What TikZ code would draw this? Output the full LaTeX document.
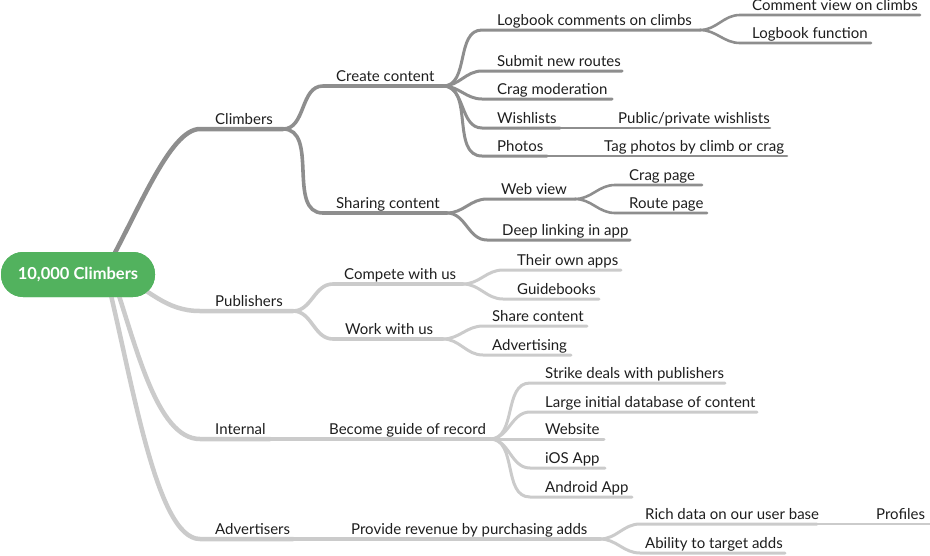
\documentclass[tikz,border=0pt]{standalone}
\usepackage{fontspec}
\setmainfont{Lato}
\definecolor{dk}{HTML}{8E8E8E}
\definecolor{lt}{HTML}{CBCBCB}
\definecolor{grn}{HTML}{52B25E}
\definecolor{txt}{HTML}{1E1E1E}
\newcommand{\mmtopic}[6]{%
  \coordinate (#1-s) at (#4,-#3);
  \coordinate (#1-e) at (#5,-#3);
  \node[lbl] (#1) at (#2,-#3+5) {#6};}
\begin{document}
\begin{tikzpicture}[x=1pt,y=1pt,
  lbl/.style={anchor=base west,inner sep=0pt,font=\fontsize{15}{17}\selectfont,text=txt},
  br/.style={line cap=round,line join=round},
  dA/.style={br,draw=dk,line width=4.5pt},
  dB/.style={br,draw=dk,line width=3.6pt},
  dC/.style={br,draw=dk,line width=3pt},
  dD/.style={br,draw=dk,line width=2.6pt},
  lA/.style={br,draw=lt,line width=4.5pt},
  lB/.style={br,draw=lt,line width=3.6pt},
  lC/.style={br,draw=lt,line width=3pt},
  lD/.style={br,draw=lt,line width=2.6pt},
  sc/.style={out=0,in=180},
  rootbox/.style={fill=grn,rounded corners=22pt,minimum width=154pt,minimum height=45pt,inner sep=0pt,
  text=white,font=\bfseries\fontsize{16.5}{19}\selectfont}]
\path[use as bounding box] (0,0) rectangle (930,-555);
% root (placed first so the connectors can start from it)
\node[rootbox] (root) at (78,-274.5) {};
% topics
\mmtopic{cl}{215}{129}{200}{283}{Climbers}
\mmtopic{cc}{336}{86}{323}{443}{Create content}
\mmtopic{sh}{336}{213}{323}{447}{Sharing content}
\mmtopic{lb}{497}{30}{482}{700}{Logbook comments on climbs}
\mmtopic{cv}{752}{15}{740}{920}{Comment view on climbs}
\mmtopic{lf}{752}{43}{740}{871}{Logbook function}
\mmtopic{sn}{497}{71}{482}{622}{Submit new routes}
\mmtopic{cm}{497}{99}{482}{612}{Crag moderation}
\mmtopic{wl}{497}{128}{482}{560}{Wishlists}
\mmtopic{pw}{618}{128}{560}{770}{Public/private wishlists}
\mmtopic{ph}{497}{156}{482}{547}{Photos}
\mmtopic{tp}{604}{156}{547}{787}{Tag photos by climb or crag}
\mmtopic{wv}{501}{199}{487}{575}{Web view}
\mmtopic{cp}{629}{185}{615}{702}{Crag page}
\mmtopic{rp}{629}{213}{615}{707}{Route page}
\mmtopic{dl}{502}{240}{487}{630}{Deep linking in app}
\mmtopic{pu}{215}{311}{200}{293}{Publishers}
\mmtopic{co}{344}{284}{333}{463}{Compete with us}
\mmtopic{oa}{517}{270}{503}{621}{Their own apps}
\mmtopic{gb}{517}{299}{503}{599}{Guidebooks}
\mmtopic{ww}{345}{339}{333}{443}{Work with us}
\mmtopic{sc}{492}{326}{483}{587}{Share content}
\mmtopic{ad}{492}{355}{483}{571}{Advertising}
\mmtopic{in}{215}{439}{200}{270}{Internal}
\mmtopic{bg}{329}{439}{270}{490}{Become guide of record}
\mmtopic{sd}{545}{383}{530}{725}{Strike deals with publishers}
\mmtopic{li}{545}{412}{530}{757}{Large initial database of content}
\mmtopic{ws}{545}{439}{530}{604}{Website}
\mmtopic{io}{545}{468}{530}{605}{iOS App}
\mmtopic{an}{545}{497}{530}{632}{Android App}
\mmtopic{av}{215}{539}{200}{293}{Advertisers}
\mmtopic{pr}{351}{539}{293}{600}{Provide revenue by purchasing adds}
\mmtopic{rd}{645}{524}{640}{817}{Rich data on our user base}
\mmtopic{pf}{876}{524}{817}{930}{Profiles}
\mmtopic{at}{645}{553}{640}{785}{Ability to target adds}
% connectors: root level
\draw[dA] ([xshift=25pt]root.center) to[out=60,in=180,in looseness=0.45] (cl-s) -- (cl-e);
\draw[lA] ([xshift=40pt]root.center) to[out=-25,in=180] (pu-s) -- (pu-e);
\draw[lA] ([xshift=34pt]root.center) to[out=-71,in=180,in looseness=0.6] (in-s) -- (in-e);
\draw[lA] ([xshift=28pt]root.center) to[out=-76,in=180,in looseness=0.4] (av-s) -- (av-e);
% climbers
\draw[dB] (cl-e) to[sc] (cc-s) -- (cc-e);
\draw[dB] (cl-e) to[sc] (sh-s) -- (sh-e);
\draw[dC] (cc-e) to[sc] (lb-s) -- (lb-e);
\draw[dC] (cc-e) to[sc] (sn-s) -- (sn-e);
\draw[dC] (cc-e) to[sc] (cm-s) -- (cm-e);
\draw[dC] (cc-e) to[sc] (wl-s) -- (wl-e);
\draw[dC] (cc-e) to[sc] (ph-s) -- (ph-e);
\draw[dD] (lb-e) to[sc] (cv-s) -- (cv-e);
\draw[dD] (lb-e) to[sc] (lf-s) -- (lf-e);
\draw[dD] (wl-e) -- (pw-e);
\draw[dD] (ph-e) -- (tp-e);
\draw[dC] (sh-e) to[sc] (wv-s) -- (wv-e);
\draw[dC] (sh-e) to[sc] (dl-s) -- (dl-e);
\draw[dD] (wv-e) to[sc] (cp-s) -- (cp-e);
\draw[dD] (wv-e) to[sc] (rp-s) -- (rp-e);
% publishers
\draw[lB] (pu-e) to[sc] (co-s) -- (co-e);
\draw[lB] (pu-e) to[sc] (ww-s) -- (ww-e);
\draw[lC] (co-e) to[sc] (oa-s) -- (oa-e);
\draw[lC] (co-e) to[sc] (gb-s) -- (gb-e);
\draw[lC] (ww-e) to[sc] (sc-s) -- (sc-e);
\draw[lC] (ww-e) to[sc] (ad-s) -- (ad-e);
% internal
\draw[lB] (in-e) -- (bg-e);
\draw[lC] (bg-e) to[sc] (sd-s) -- (sd-e);
\draw[lC] (bg-e) to[sc] (li-s) -- (li-e);
\draw[lC] (bg-e) to[sc] (ws-s) -- (ws-e);
\draw[lC] (bg-e) to[sc] (io-s) -- (io-e);
\draw[lC] (bg-e) to[sc] (an-s) -- (an-e);
% advertisers
\draw[lB] (av-e) -- (pr-e);
\draw[lC] (pr-e) to[sc] (rd-s) -- (rd-e);
\draw[lC] (pr-e) to[sc] (at-s) -- (at-e);
\draw[lD] (rd-e) -- (pf-e);
% root drawn again on top of the connectors
\node[rootbox] (roottop) at (root.center) {10,000 Climbers};
\end{tikzpicture}
\end{document}
